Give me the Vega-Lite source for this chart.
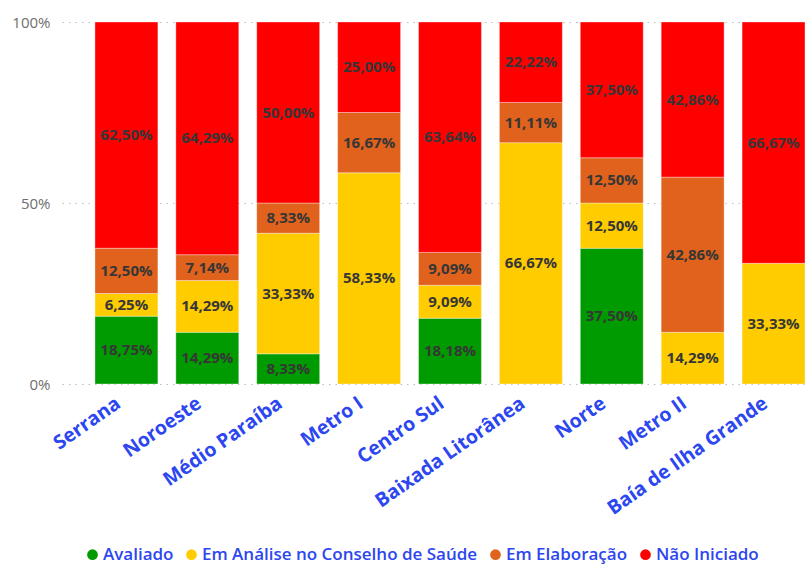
{
  "$schema": "https://vega.github.io/schema/vega-lite/v6.json",
  "autosize": {"type": "none"},
  "padding": {"left": 62, "top": 22, "right": 0, "bottom": 180},
  "width": 745,
  "height": 362,
  "background": "white",
  "config": {
    "locale": {"number": {"decimal": ",", "thousands": ".", "grouping": [3], "currency": ["R$", ""]}},
    "view": {"stroke": null},
    "font": "Open Sans"
  },
  "data": {
    "values": [
      {"regiao": "Serrana", "status": "Avaliado", "ordem": 1, "pct": 0.1875},
      {"regiao": "Serrana", "status": "Em Análise no Conselho de Saúde", "ordem": 2, "pct": 0.0625},
      {"regiao": "Serrana", "status": "Em Elaboração", "ordem": 3, "pct": 0.125},
      {"regiao": "Serrana", "status": "Não Iniciado", "ordem": 4, "pct": 0.625},
      {"regiao": "Noroeste", "status": "Avaliado", "ordem": 1, "pct": 0.1429},
      {"regiao": "Noroeste", "status": "Em Análise no Conselho de Saúde", "ordem": 2, "pct": 0.1429},
      {"regiao": "Noroeste", "status": "Em Elaboração", "ordem": 3, "pct": 0.0714},
      {"regiao": "Noroeste", "status": "Não Iniciado", "ordem": 4, "pct": 0.6429},
      {"regiao": "Médio Paraíba", "status": "Avaliado", "ordem": 1, "pct": 0.0833},
      {"regiao": "Médio Paraíba", "status": "Em Análise no Conselho de Saúde", "ordem": 2, "pct": 0.3333},
      {"regiao": "Médio Paraíba", "status": "Em Elaboração", "ordem": 3, "pct": 0.0833},
      {"regiao": "Médio Paraíba", "status": "Não Iniciado", "ordem": 4, "pct": 0.5},
      {"regiao": "Metro I", "status": "Em Análise no Conselho de Saúde", "ordem": 2, "pct": 0.5833},
      {"regiao": "Metro I", "status": "Em Elaboração", "ordem": 3, "pct": 0.1667},
      {"regiao": "Metro I", "status": "Não Iniciado", "ordem": 4, "pct": 0.25},
      {"regiao": "Centro Sul", "status": "Avaliado", "ordem": 1, "pct": 0.1818},
      {"regiao": "Centro Sul", "status": "Em Análise no Conselho de Saúde", "ordem": 2, "pct": 0.0909},
      {"regiao": "Centro Sul", "status": "Em Elaboração", "ordem": 3, "pct": 0.0909},
      {"regiao": "Centro Sul", "status": "Não Iniciado", "ordem": 4, "pct": 0.6364},
      {"regiao": "Baixada Litorânea", "status": "Em Análise no Conselho de Saúde", "ordem": 2, "pct": 0.6667},
      {"regiao": "Baixada Litorânea", "status": "Em Elaboração", "ordem": 3, "pct": 0.1111},
      {"regiao": "Baixada Litorânea", "status": "Não Iniciado", "ordem": 4, "pct": 0.2222},
      {"regiao": "Norte", "status": "Avaliado", "ordem": 1, "pct": 0.375},
      {"regiao": "Norte", "status": "Em Análise no Conselho de Saúde", "ordem": 2, "pct": 0.125},
      {"regiao": "Norte", "status": "Em Elaboração", "ordem": 3, "pct": 0.125},
      {"regiao": "Norte", "status": "Não Iniciado", "ordem": 4, "pct": 0.375},
      {"regiao": "Metro II", "status": "Em Análise no Conselho de Saúde", "ordem": 2, "pct": 0.1429},
      {"regiao": "Metro II", "status": "Em Elaboração", "ordem": 3, "pct": 0.4286},
      {"regiao": "Metro II", "status": "Não Iniciado", "ordem": 4, "pct": 0.4286},
      {"regiao": "Baía de Ilha Grande", "status": "Em Análise no Conselho de Saúde", "ordem": 2, "pct": 0.3333},
      {"regiao": "Baía de Ilha Grande", "status": "Não Iniciado", "ordem": 4, "pct": 0.6667}
    ]
  },
  "transform": [
    {"stack": "pct", "groupby": ["regiao"], "sort": [{"field": "ordem", "order": "ascending"}], "offset": "normalize", "as": ["y0", "y1"]},
    {"calculate": "(datum.y0 + datum.y1) / 2", "as": "ymid"}
  ],
  "encoding": {
    "x": {
      "field": "regiao", "type": "nominal", "sort": null, "title": null,
      "scale": {"paddingInner": 0.222, "paddingOuter": 0.216, "align": 0.943},
      "axis": {"labelAngle": -35, "labelAlign": "right", "labelBaseline": "middle",
               "labelFontSize": 19.5, "labelFontWeight": "bold", "labelColor": "#2C46F0", "labelLimit": 0,
               "ticks": false, "domain": false, "labelPadding": 17, "labelOffset": -8}
    }
  },
  "layer": [
    {
      "mark": {"type": "bar", "stroke": "white", "strokeOpacity": 0.35, "strokeWidth": 1},
      "encoding": {
        "y": {
          "field": "y0", "type": "quantitative", "title": null,
          "scale": {"domain": [0, 1]},
          "axis": {"values": [0, 0.5, 1], "format": ".0%", "labelFontSize": 15, "labelColor": "#6E6E6E",
                   "ticks": false, "domain": false, "labelPadding": 12,
                   "gridDash": [1.5, 5], "gridColor": "#BDBDBD", "gridWidth": 1.2}
        },
        "y2": {"field": "y1"},
        "color": {
          "field": "status", "type": "nominal", "title": null,
          "scale": {
            "domain": ["Avaliado", "Em Análise no Conselho de Saúde", "Em Elaboração", "Não Iniciado"],
            "range": ["#009B00", "#FFCC00", "#E0621C", "#FF0000"]
          },
          "legend": {"orient": "none", "legendX": 22, "legendY": 524, "direction": "horizontal",
                     "symbolType": "circle", "symbolSize": 150,
                     "labelFontSize": 17, "labelFontWeight": 600, "labelColor": "#2C46F0", "labelLimit": 0,
                     "columnPadding": 8, "symbolOffset": 0, "labelOffset": 2}
        }
      }
    },
    {
      "mark": {"type": "text", "fontSize": 15, "fontWeight": "bold", "color": "#363636"},
      "encoding": {
        "y": {"field": "ymid", "type": "quantitative"},
        "text": {"field": "pct", "type": "quantitative", "format": ".2%"}
      }
    }
  ]
}
